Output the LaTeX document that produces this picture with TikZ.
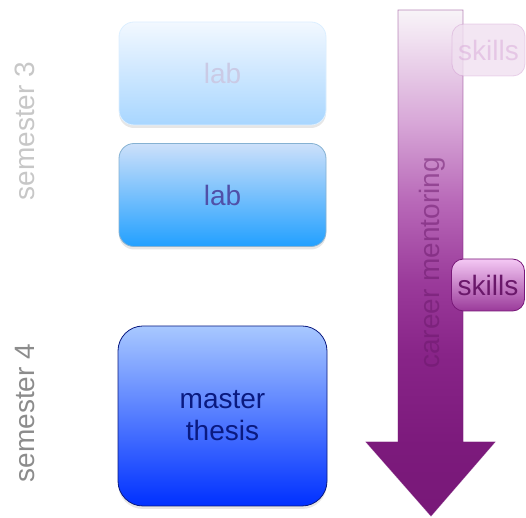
\documentclass[tikz,border=0pt]{standalone}
\usepackage{fontspec}
\setmainfont{Liberation Sans}
\usetikzlibrary{shadows}

\definecolor{labtext}{HTML}{5050A8}
\definecolor{thesistext}{HTML}{0A1A80}
\definecolor{skilltext}{HTML}{6A186A}
\definecolor{labA}{HTML}{F2F8FF}
\definecolor{labB}{HTML}{A8D6FF}
\definecolor{labC}{HTML}{CCE0FA}
\definecolor{labD}{HTML}{22A0FF}
\definecolor{thesisA}{HTML}{A8C8FF}
\definecolor{thesisB}{HTML}{0030FF}
\definecolor{mentA}{HTML}{781878}
\definecolor{mentB}{HTML}{7C1A7C}
\definecolor{mentC}{HTML}{882488}
\definecolor{mentD}{HTML}{9A3A9A}
\definecolor{mentE}{HTML}{B868B8}
\definecolor{mentF}{HTML}{D8A8D8}
\definecolor{mentG}{HTML}{F0E0F0}
\definecolor{mentH}{HTML}{F8F4F8}
\pgfdeclareverticalshading{mentor}{100bp}{color(0bp)=(mentA); color(25bp)=(mentA); color(32bp)=(mentB); color(41bp)=(mentC); color(48bp)=(mentD); color(56bp)=(mentE); color(64bp)=(mentF); color(72bp)=(mentG); color(75bp)=(mentH); color(100bp)=(mentH)}

\tikzset{
  course/.style={rectangle,rounded corners=7.5pt,minimum width=103.5pt,minimum height=51.5pt,
    drop shadow={opacity=0.2,shadow xshift=0pt,shadow yshift=-1.5pt}},
  skillbox/.style={rectangle,rounded corners=6pt,minimum width=36.5pt,minimum height=26pt,inner sep=1pt},
  term/.style={rotate=90,font=\fontsize{14}{16}\selectfont}
}

\begin{document}
\begin{tikzpicture}[x=0.5pt,y=-0.5pt,font=\fontsize{14}{16}\selectfont]
\useasboundingbox (0,0) rectangle (526,518);

\node[term,text=black!22] (s3) at (25,131) {semester 3};
\node[term,text=black!45] (s4) at (25,413) {semester 4};

\node[course,draw=labB!40,top color=labA,bottom color=labB,text=labtext!30] (lab1) at (222.5,73.5) {lab};
\node[course,draw=labD!50!gray!70,top color=labC,bottom color=labD,text=labtext] (lab2) at (222.5,195) {lab};
\node[course,rounded corners=12.5pt,minimum width=104.5pt,minimum height=90pt,align=center,
  draw=thesistext,top color=thesisA,bottom color=thesisB,text=thesistext] (thesis) at (222.5,416) {master\\thesis};

\draw[draw=mentA,draw opacity=0.5,shading=mentor]
  (398,10) -- (463,10) -- (463,442) -- (495,442) -- (431,516) -- (366,442) -- (398,442) -- cycle;
\node[rotate=90,text=skilltext,text opacity=0.5] (career) at (432,263) {career mentoring};

\node[skillbox,draw=mentE,draw opacity=0.25,fill=mentG,fill opacity=0.8,text=mentF,text opacity=0.5] (skills1) at (488.5,50) {skills};
\node[skillbox,draw=mentA,top color=mentF!70!magenta!40,bottom color=mentD,text=skilltext] (skills2) at (488,285) {skills};
\end{tikzpicture}
\end{document}
